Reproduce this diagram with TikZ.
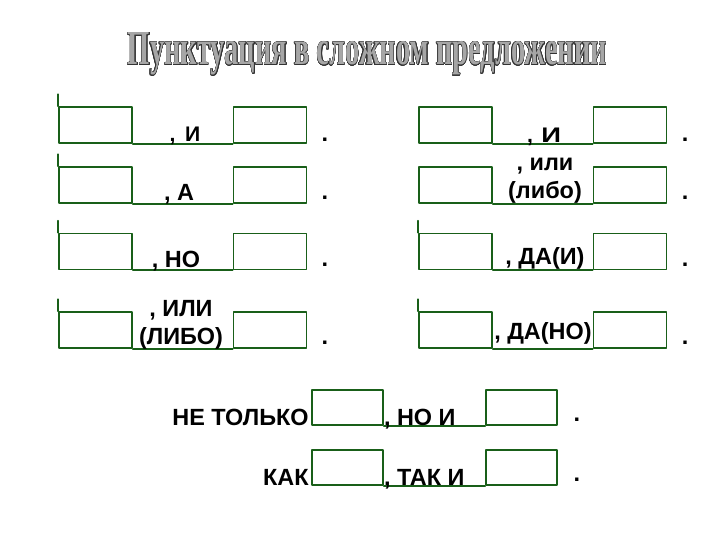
\documentclass[tikz,border=0pt]{standalone}
\usepackage{fontspec}
\usepackage[copies]{contour}
\setmainfont{Liberation Sans}
\newfontfamily\titlefont{Liberation Serif}
\definecolor{boxgreen}{RGB}{25,95,25}
\contourlength{0.22pt}

\begin{document}
\begin{tikzpicture}[x=0.03cm, y=-0.03cm, line join=round, line cap=round,
	font=\fontsize{20}{24}\selectfont\bfseries,
	box/.style={draw=boxgreen, line width=1.4pt, minimum width=2.19cm, minimum height=1.08cm, inner sep=0pt},
	lbox/.style={box, minimum width=2.13cm, minimum height=1.05cm},
	link/.style={draw=boxgreen, line width=1.4pt},
	lbl/.style={align=center, inner sep=0pt},
	smalllbl/.style={lbl, font=\fontsize{18}{21}\selectfont\bfseries}]
	\useasboundingbox (0,0) rectangle (720,540);
	\node[anchor=base, inner sep=0pt, text=black!35] (title) at (367.5,65)
		{\resizebox{14.37cm}{0.96cm}{\contour{black!80}{\titlefont Пунктуация в сложном предложении}}};
	% four rows, two columns
	\foreach \y/\t in {125/1,185/2,251.5/3,330/4} {
		\node[box] (a\t) at (95.5,\y) {};
		\node[box] (b\t) at (270,\y) {};
		\node[box] (c\t) at (455.5,\y) {};
		\node[box] (d\t) at (630,\y) {};
		\draw[link] (a\t.south east) -- (b\t.south west);
		\draw[link] (c\t.south east) -- (d\t.south west);
		\draw[link] (a\t.north west) -- ++(0,-12);
	}
	\draw[link] (c3.north west) -- ++(0,-12);
	\draw[link] (c4.north west) -- ++(0,-12);
	% labels
	\node[smalllbl, anchor=base] (l1) at (185,142) {,\hspace{0.45em}И};
	\node[lbl, anchor=base] (l2) at (179,201) {, А};
	\node[lbl, anchor=base] (l3) at (176,268) {, НО};
	\node[lbl] (l4) at (181,325) {, ИЛИ\\(ЛИБО)};
	\node[smalllbl, anchor=base] (r1) at (544,143) {,\hspace{0.4em}\scalebox{1.3}[1]{И}};
	\node[lbl] (r2) at (545,181) {, или\\(либо)};
	\node[lbl, anchor=base] (r3) at (545,265) {, ДА(И)};
	\node[lbl, anchor=base] (r4) at (543,340) {, ДА(НО)};
	% dots
	\foreach \y/\t in {142/1,200/2,267/3,345/4} {
		\node[anchor=base, inner sep=0pt] (pl\t) at (325,\y) {.};
		\node[anchor=base, inner sep=0pt] (pr\t) at (685,\y) {.};
	}
	% bottom rows
	\node[lbox] (e1) at (347.5,407.5) {};
	\node[lbox] (f1) at (521.5,407.5) {};
	\node[lbox] (e2) at (347.5,467.5) {};
	\node[lbox] (f2) at (521.5,467.5) {};
	\draw[link] (e1.south east) -- (f1.south west);
	\draw[link] (e2.south east) -- (f2.south west);
	\node[lbl, anchor=base east, xshift=-2] (t1) at (e1.south west) {НЕ ТОЛЬКО};
	\node[lbl, anchor=base west] (t2) at (e1.south east) {, НО И};
	\node[lbl, anchor=base east, xshift=-2] (t3) at (e2.south west) {КАК};
	\node[lbl, anchor=base west] (t4) at (e2.south east) {, ТАК И};
	\node[anchor=base, inner sep=0pt] (pb1) at (577,422) {.};
	\node[anchor=base, inner sep=0pt] (pb2) at (577,482) {.};
\end{tikzpicture}
\end{document}
